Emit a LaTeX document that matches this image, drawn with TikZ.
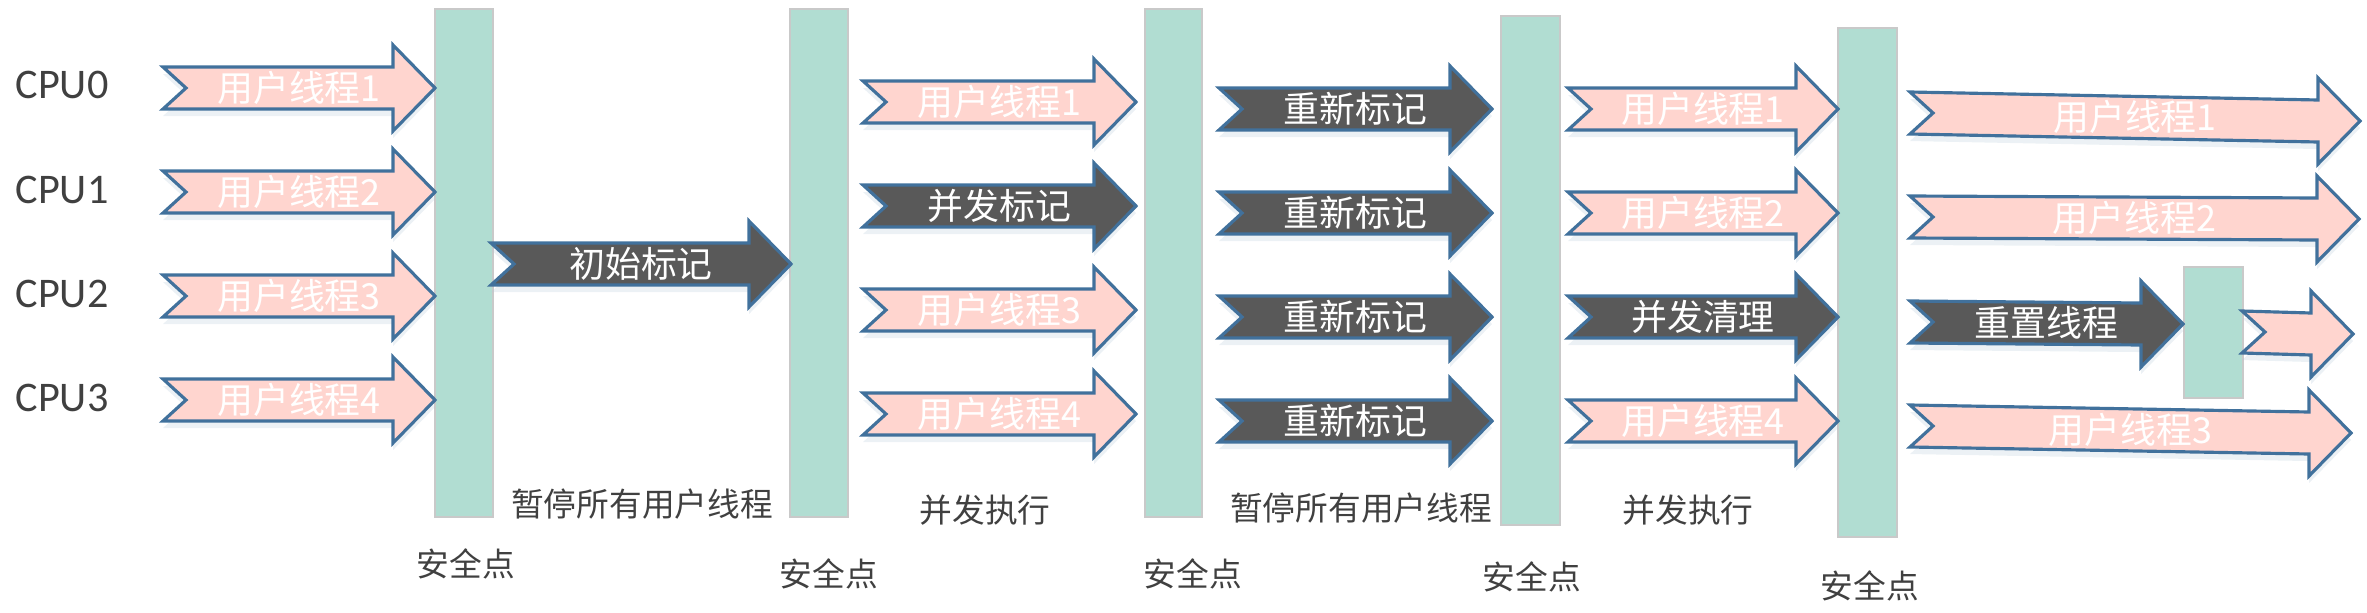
\documentclass[tikz,border=0pt]{standalone}
\usepackage{fontspec}
\setmainfont{Carlito}
\newfontfamily\cjk{Noto Sans CJK SC}
\usetikzlibrary{fit,shadows}

\definecolor{threadpink}{HTML}{FFD5CF}
\definecolor{edgeblue}{HTML}{41719C}
\definecolor{gcgrey}{HTML}{595959}
\definecolor{bargreen}{HTML}{B1DDD2}
\definecolor{barline}{HTML}{C9C9C9}
\definecolor{labelgrey}{HTML}{404040}

\tikzset{
  soft/.style={drop shadow={shadow xshift=0pt, shadow yshift=-2pt, fill=edgeblue!40, opacity=0.25}},
  user/.style={soft, fill=threadpink, draw=edgeblue, line width=0.9pt, line join=miter},
  gc/.style={soft, fill=gcgrey, draw=edgeblue, line width=0.9pt, line join=miter},
  flowtext/.style={text=white, font=\cjk\fontsize{10.2pt}{12pt}\selectfont, inner sep=0pt},
  bar/.style={fill=bargreen, draw=barline, line width=0.4pt, inner sep=0pt},
  phase/.style={text=labelgrey, font=\cjk\fontsize{9.3pt}{11pt}\selectfont},
  cpu/.style={text=labelgrey, font=\fontsize{12pt}{14pt}\selectfont},
}

% notched arrow: name, style, tail x, tail y, tip x, tip y, text
\newcommand{\flow}[7]{%
  \draw[#2] (#3,#4-21) -- (#5-42,#6-21) -- (#5-42,#6-43) -- (#5,#6)
    -- (#5-42,#6+43) -- (#5-42,#6+21) -- (#3,#4+21) -- (#3+23,#4) -- cycle;
  \node (#1)[flowtext] at ({(#3+#5)/2},{(#4+#6)/2}) {#7};
}

\begin{document}
\begin{tikzpicture}[x=0.01cm, y=-0.01cm]
\useasboundingbox (0,0) rectangle (2367,612);

\node (cpu0)[cpu] at (62,85) {CPU0};
\node (cpu1)[cpu] at (62,190) {CPU1};
\node (cpu2)[cpu] at (62,294) {CPU2};
\node (cpu3)[cpu] at (62,398) {CPU3};

\node (sp1)[bar, fit={(435,9) (493,517)}] {};
\node (sp2)[bar, fit={(790,9) (848,517)}] {};
\node (sp3)[bar, fit={(1145,9) (1202,517)}] {};
\node (sp4)[bar, fit={(1501,16) (1560,525)}] {};
\node (sp5)[bar, fit={(1838,28) (1897,537)}] {};
\node (sp6)[bar, fit={(2184,267) (2243,398)}] {};

\flow{a1}{user}{163}{88}{435}{88}{用户线程1}
\flow{a2}{user}{163}{192}{435}{192}{用户线程2}
\flow{a3}{user}{163}{296}{435}{296}{用户线程3}
\flow{a4}{user}{163}{400}{435}{400}{用户线程4}

\flow{init}{gc}{491}{264}{791}{264}{初始标记}

\flow{b1}{user}{863}{102}{1136}{102}{用户线程1}
\flow{b2}{gc}{863}{206}{1136}{206}{并发标记}
\flow{b3}{user}{863}{310}{1136}{310}{用户线程3}
\flow{b4}{user}{863}{414}{1136}{414}{用户线程4}

\flow{c1}{gc}{1219}{109}{1492}{109}{重新标记}
\flow{c2}{gc}{1219}{213}{1492}{213}{重新标记}
\flow{c3}{gc}{1219}{317}{1492}{317}{重新标记}
\flow{c4}{gc}{1219}{421}{1492}{421}{重新标记}

\flow{d1}{user}{1568}{109}{1838}{109}{用户线程1}
\flow{d2}{user}{1568}{213}{1838}{213}{用户线程2}
\flow{d3}{gc}{1568}{317}{1838}{317}{并发清理}
\flow{d4}{user}{1568}{421}{1838}{421}{用户线程4}

\flow{e1}{user}{1910}{113}{2360}{121}{用户线程1}
\flow{e2}{user}{1910}{217}{2359}{219}{用户线程2}
\flow{e3}{gc}{1910}{322}{2183}{324}{重置线程}
\flow{e4}{user}{1910}{426}{2351}{433}{用户线程3}
\flow{e5}{user}{2242}{332}{2353}{334}{}

\node (pause1)[phase] at (642,504) {暂停所有用户线程};
\node (conc1)[phase] at (985,510) {并发执行};
\node (pause2)[phase] at (1361,508) {暂停所有用户线程};
\node (conc2)[phase] at (1688,510) {并发执行};

\node (safe1)[phase] at (466,564) {安全点};
\node (safe2)[phase] at (829,574) {安全点};
\node (safe3)[phase] at (1193,574) {安全点};
\node (safe4)[phase] at (1532,577) {安全点};
\node (safe5)[phase] at (1870,586) {安全点};

\end{tikzpicture}
\end{document}
